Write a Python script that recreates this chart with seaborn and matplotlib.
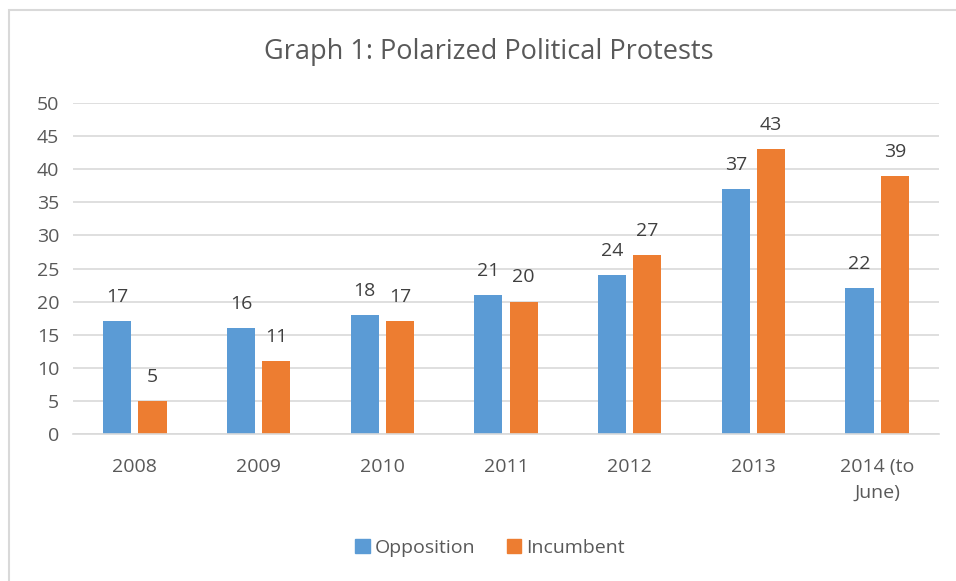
import matplotlib
matplotlib.use("Agg")
import matplotlib.pyplot as plt
import matplotlib.patches as mpatches
import seaborn as sns
import pandas as pd

years = ["2008", "2009", "2010", "2011", "2012", "2013", "2014 (to\nJune)"]
opposition = [17, 16, 18, 21, 24, 37, 22]
incumbent = [5, 11, 17, 20, 27, 43, 39]
series = ["Opposition", "Incumbent"]
colors = ["#5B9BD5", "#ED7D31"]

sns.set_style("white")
plt.rcParams["font.family"] = ["Open Sans", "DejaVu Sans"]
text_color = "#595959"

df = pd.DataFrame({
    "year": years * 2,
    "value": opposition + incumbent,
    "series": [series[0]] * len(years) + [series[1]] * len(years),
})

W, H = 956, 581
fig = plt.figure(figsize=(W / 100, H / 100), dpi=100)
ax = fig.add_axes([73 / W, 1 - 434 / H, (939 - 73) / W, (434 - 103) / H])

sns.barplot(data=df, x="year", y="value", hue="series", order=years,
            hue_order=series, palette=colors, width=0.57, gap=0.2,
            saturation=1, linewidth=0, ax=ax, legend=False)

for cont in ax.containers:
    ax.bar_label(cont, fmt="%d", padding=11, fontsize=14, color="#404040")

ax.set_ylim(0, 50)
ax.set_yticks(range(0, 51, 5))
ax.yaxis.grid(True, color="#D9D9D9", linewidth=1.2)
ax.set_axisbelow(True)
for s in ["top", "right", "left"]:
    ax.spines[s].set_visible(False)
ax.spines["bottom"].set_color("#D9D9D9")
ax.spines["bottom"].set_linewidth(1.2)
ax.tick_params(axis="both", length=0, labelsize=14, colors=text_color)
ax.tick_params(axis="y", pad=10)
ax.tick_params(axis="x", pad=17)
for lbl in ax.get_xticklabels():
    lbl.set_linespacing(1.6)
ax.set_xlabel("")
ax.set_ylabel("")

fig.text(489 / W, 1 - 52 / H, "Graph 1: Polarized Political Protests",
         ha="center", va="center", fontsize=19.5, color=text_color)

handles = [mpatches.Patch(color=c, label=l) for c, l in zip(colors, series)]
fig.legend(handles=handles, loc="center", bbox_to_anchor=(490 / W, 1 - 548 / H),
           ncol=2, frameon=False, fontsize=14, handlelength=0.75, handleheight=0.75,
           handletextpad=0.25, columnspacing=1.6, labelcolor=text_color)

fig.add_artist(plt.Rectangle((8.5 / W, -0.01), 1.0, 1 - 10.5 / H + 0.01,
                             transform=fig.transFigure, fill=False,
                             edgecolor="#D9D9D9", linewidth=1.5))

fig.savefig("out.png", dpi=100)
